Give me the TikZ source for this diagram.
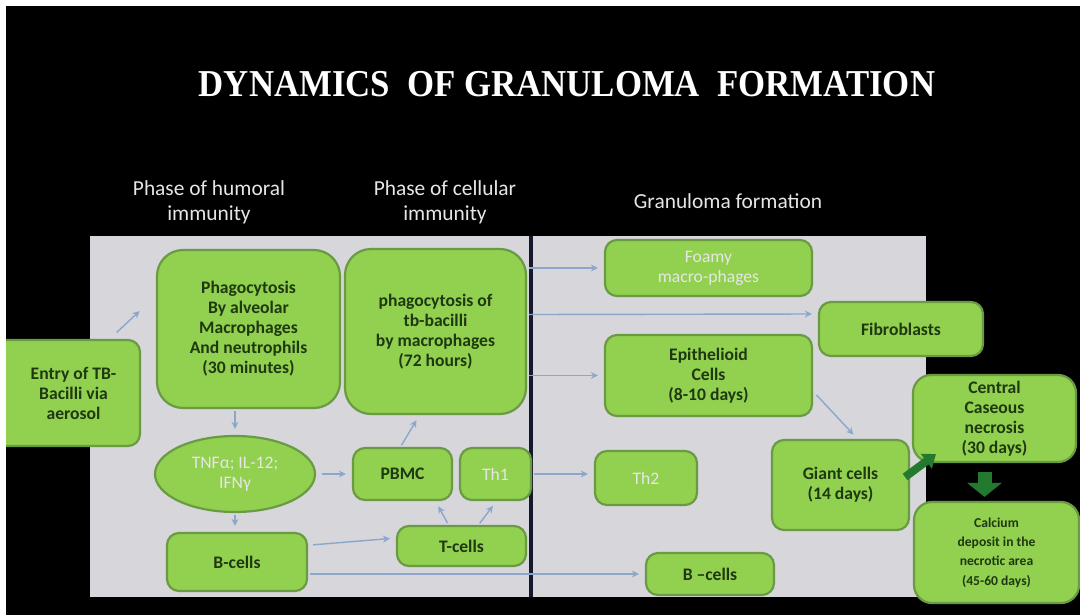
\documentclass[tikz,border=0pt]{standalone}
\usepackage{fontspec}
\setmainfont{Carlito}
\newfontfamily\titlefont{Liberation Serif}
\usepackage{tikz}
\usetikzlibrary{arrows.meta,calc,shapes.geometric}
\usepackage{xcolor}
\definecolor{LeafGreen}{HTML}{92D050}
\definecolor{BoxEdge}{HTML}{6A9A42}
\definecolor{DeepText}{HTML}{1E3810}
\definecolor{LinkBlue}{HTML}{8CA6CC}
\definecolor{PanelGray}{HTML}{D6D6DB}
\definecolor{Divider}{HTML}{141A2C}
\definecolor{ArrowGreen}{HTML}{237A2E}
\definecolor{HeadWhite}{HTML}{E6E6E6}
\tikzset{
  greenbox/.style={draw=BoxEdge,line width=1.1pt,fill=LeafGreen,rounded corners=6pt,
    align=center,text=DeepText,inner sep=1pt,font=\bfseries\fontsize{8.8}{10}\selectfont},
  paletext/.style={text=HeadWhite,font=\fontsize{8.8}{10}\selectfont},
  bigbox/.style={greenbox,rounded corners=13pt},
  header/.style={text=HeadWhite,align=center,font=\fontsize{10.7}{12.5}\selectfont},
  link/.style={draw=LinkBlue,line width=0.7pt,-{Stealth[length=3.5pt,width=3.5pt]},
    shorten >=3pt,shorten <=1pt},
  fatlink/.style={draw=ArrowGreen,line width=4pt,-{Triangle[length=6pt,width=9pt]}},
}

\begin{document}
\begin{tikzpicture}[x=0.5pt,y=-0.5pt]
     \useasboundingbox (0,0) rectangle (1080,615);
     \fill[black] (0,0) rectangle (1080,615);

     \node[text=white,font=\titlefont\bfseries\fontsize{19}{22}\selectfont] (title) at (567,84)
       {\scalebox{0.915}[1]{DYNAMICS\ \ OF GRANULOMA\ \ FORMATION}};

     \node[header] (humoral) at (209,202) {Phase of humoral\\immunity};
     \node[header] (cellular) at (445,202) {Phase of cellular\\immunity};
     \node[header] (granhead) at (728,201) {Granuloma formation};

     \fill[PanelGray] (90,236) rectangle (926,597);
     \draw[Divider,line width=1.6pt] (531,236) -- (531,597);

     \node[greenbox,minimum width=72.5pt,minimum height=53pt] (entry) at (67.5,393)
       {\hspace*{6pt}Entry of TB-\\\hspace*{6pt}Bacilli via\\\hspace*{6pt}aerosol};
     \node[bigbox,minimum width=91.5pt,minimum height=79pt] (phagoA) at (248.5,329)
       {Phagocytosis\\By alveolar\\Macrophages\\And neutrophils\\(30 minutes)};
     \node[bigbox,minimum width=90.5pt,minimum height=82.5pt] (phagoB) at (435.5,331.5)
       {phagocytosis of\\tb-bacilli\\by macrophages\\(72 hours)};
     \node[greenbox,ellipse,paletext,minimum width=80pt,minimum height=38pt] (tnf) at (235,474)
       {TNFα; IL-12;\\IFNγ};
     \node[greenbox,minimum width=70pt,minimum height=29pt] (bcellA) at (237,562) {B-cells};
     \node[greenbox,minimum width=49.5pt,minimum height=26pt] (pbmc) at (402.5,474) {PBMC};
     \node[greenbox,paletext,minimum width=35.5pt,minimum height=26pt] (thone) at (495.5,474) {Th1};
     \node[greenbox,minimum width=64.5pt,minimum height=20pt] (tcell) at (461.5,546) {T-cells};

     \node[greenbox,paletext,minimum width=103.5pt,minimum height=28pt] (foamy) at (708.5,268)
       {Foamy\\macro-phages};
     \node[greenbox,minimum width=82pt,minimum height=27pt] (fibro) at (901,329) {Fibroblasts};
     \node[greenbox,minimum width=103.5pt,minimum height=40.5pt] (epi) at (708.5,375.5)
       {Epithelioid\\Cells\\(8-10 days)};
     \node[greenbox,paletext,minimum width=51pt,minimum height=27pt] (thtwo) at (646,478) {Th2};
     \node[greenbox,minimum width=68.5pt,minimum height=45pt] (giant) at (840.5,485)
       {Giant cells\\(14 days)};
     \node[greenbox,minimum width=64pt,minimum height=21pt] (bcellB) at (710,574) {B --cells};
     \node[greenbox,rounded corners=9pt,minimum width=81.5pt,minimum height=43.5pt] (central) at (994.5,418.5)
       {Central\\Caseous\\necrosis\\(30 days)};
     \node[greenbox,rounded corners=9pt,font=\bfseries\fontsize{6.8}{9.6}\selectfont,minimum width=82.5pt,minimum height=50.5pt] (calc) at (996.5,552.5)
       {Calcium\\deposit in the\\necrotic area\\(45-60 days)};

     \draw[link] ($(entry.north east)+(-26,-5)$) -- ($(phagoA.west)+(-12,-22)$);
     \draw[link] (tnf.north |- phagoA.south) -- (tnf.north);
     \draw[link] (tnf.south) -- (tnf.south |- bcellA.north);
     \draw[link] ($(tnf.east)+(4,0)$) -- (pbmc.west);
     \draw[link] ($(pbmc.north)+(-2,0)$) -- ($(phagoB.south)+(-16,0)$);
     \draw[link] ($(tcell.north)+(-13,0)$) -- ($(pbmc.south)+(33,0)$);
     \draw[link] ($(tcell.north)+(17,0)$) -- ($(thone.south)+(1,0)$);
     \draw[link] ($(bcellA.east)+(3,-17)$) -- ($(tcell.west)+(0,-8)$);
     \draw[link] (bcellA.east |- bcellB.west) -- (bcellB.west);
     \draw[link] (phagoB.east |- foamy.west) -- (foamy.west);
     \draw[link] ($(phagoB.east)+(0,-17)$) -- ($(fibro.west)+(0,-15)$);
     \draw[link] (phagoB.east |- epi.west) -- (epi.west);
     \draw[link] (thone.east) -- (thone.east -| thtwo.west);
     \draw[link] ($(epi.east)+(2,18)$) -- ($(giant.north)+(17,0)$);

     \draw[fatlink] ($(giant.east)+(-5,-8)$) -- ($(central.south west)+(24,-9)$);
     \draw[draw=ArrowGreen,line width=7pt,-{Triangle[length=7pt,width=17pt]}]
       ($(central.south)+(-10,9)$) -- ($(calc.north)+(-12,-4)$);

     \fill[white] (0,0) rectangle (1080,6);
     \fill[white] (0,0) rectangle (6,615);
    \end{tikzpicture}
\end{document}
